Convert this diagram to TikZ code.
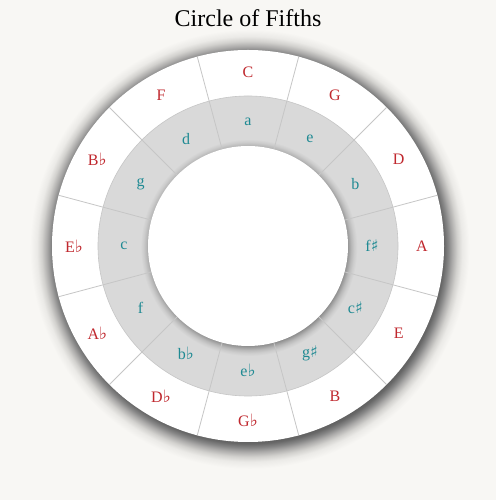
\documentclass[tikz,border=0pt]{standalone}
\usepackage{fontspec}
\setmainfont{Liberation Serif}
\newfontfamily\symf{DejaVu Sans}
\definecolor{bg}{HTML}{F8F7F4}
\definecolor{majred}{HTML}{C0282E}
\definecolor{minteal}{HTML}{1F8A93}
\definecolor{ringgray}{HTML}{D9D9D9}
\definecolor{divline}{HTML}{C6C6C6}
\definecolor{osa}{HTML}{585858}
\definecolor{osb}{HTML}{686868}
\definecolor{osc}{HTML}{868686}
\definecolor{osd}{HTML}{ABAAA9}
\definecolor{ose}{HTML}{D2D1CE}
\definecolor{osf}{HTML}{EBEAE7}
\definecolor{isa}{HTML}{7A7A7A}
\definecolor{isb}{HTML}{9A9A9A}
\definecolor{isc}{HTML}{B8B8B8}
\definecolor{isd}{HTML}{CCCCCC}
\pgfdeclareradialshading{outershadow}{\pgfpointorigin}{color(0bp)=(osa); color(189bp)=(osa); color(194bp)=(osb); color(198bp)=(osc); color(202bp)=(osd); color(207bp)=(ose); color(212bp)=(osf); color(219bp)=(bg); color(222bp)=(bg)}
\pgfdeclareradialshading{innershadow}{\pgfpointorigin}{color(0bp)=(isa); color(96bp)=(isa); color(99bp)=(isb); color(102bp)=(isc); color(105bp)=(isd); color(108bp)=(ringgray); color(114bp)=(ringgray)}
\newcommand{\fl}{{\symf\fontsize{17}{17}\selectfont ♭}}
\newcommand{\shp}{{\symf\fontsize{16}{16}\selectfont ♯}}
\tikzset{
  majlab/.style={text=majred, font=\fontsize{16}{18}\selectfont, inner sep=0pt},
  minlab/.style={text=minteal, font=\fontsize{16}{18}\selectfont, inner sep=0pt},
  divider/.style={draw=divline, line width=0.8pt},
  shadowbox/.style={inner sep=0pt, outer sep=0pt},
}
\begin{document}
\begin{tikzpicture}[x=1pt,y=1pt]
\fill[bg] (0,0) rectangle (496,500);
\useasboundingbox (0,0) rectangle (496,500);
\node[font=\fontsize{24}{28}\selectfont, inner sep=0pt] (title) at (248,482) {Circle of Fifths};
\begin{scope}[shift={(248,254)}]
  \begin{scope}
    \clip (1.5,-3) circle (220);
    \node[shadowbox] (oshadow) at (1.5,-3) {\pgfuseshading{outershadow}};
  \end{scope}
  \fill[white] (0,0) circle (196);
  \fill[ringgray, draw=divline, line width=0.6pt] (0,0) circle (150);
  \begin{scope}
    \clip (0,0) circle (112);
    \node[shadowbox] (ishadow) at (0.8,-1.5) {\pgfuseshading{innershadow}};
  \end{scope}
  \foreach \k in {0,...,11}{
    \draw[divider] ({105-30*\k}:100) -- ({105-30*\k}:196);
  }
  \fill[white] (0,0) circle (100);
  \foreach \lab [count=\k from 0] in {C,G,D,A,E,B,G\fl,D\fl,A\fl,E\fl,B\fl,F}{
    \node[majlab] (maj\k) at ({90-30*\k}:174) {\lab};
  }
  \foreach \lab [count=\k from 0] in {a,e,b,f\shp,c\shp,g\shp,e\fl,b\fl,f,c,g,d}{
    \node[minlab] (min\k) at ({90-30*\k}:124) {\lab};
  }
\end{scope}
\end{tikzpicture}
\end{document}
